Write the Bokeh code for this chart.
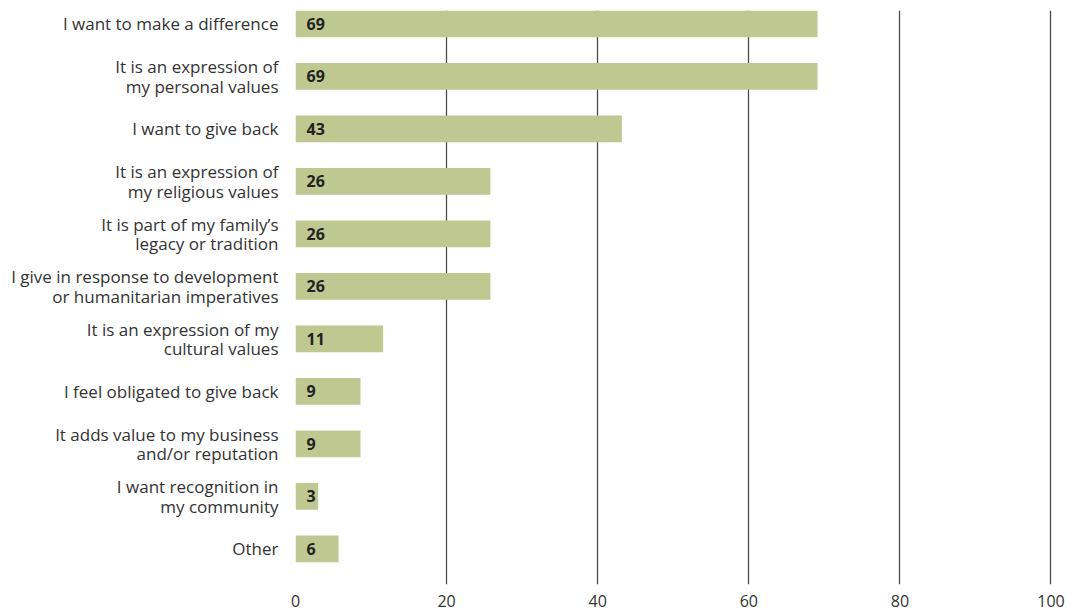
from bokeh.plotting import figure
from bokeh.models import Range1d, FixedTicker, ColumnDataSource
from bokeh.core.properties import value
from bokeh.embed import file_html
from bokeh.resources import INLINE

categories = [
    "I want to make a difference",
    "It is an expression of\nmy personal values",
    "I want to give back",
    "It is an expression of\nmy religious values",
    "It is part of my family\u2019s\nlegacy or tradition",
    "I give in response to development\nor humanitarian imperatives",
    "It is an expression of my\ncultural values",
    "I feel obligated to give back",
    "It adds value to my business\nand/or reputation",
    "I want recognition in\nmy community",
    "Other",
]
shares = [69.1, 69.1, 43.2, 25.8, 25.8, 25.8, 11.6, 8.6, 8.6, 3.0, 5.7]
share_labels = ["69", "69", "43", "26", "26", "26", "11", "9", "9", "3", "6"]
x_ticks = [0, 20, 40, 60, 80, 100]

FONT = "Open Sans"
ypos = list(range(len(categories)))
src = ColumnDataSource(dict(y=ypos, v=shares, lab=share_labels))

p = figure(width=1072, height=611, output_backend="svg", toolbar_location=None,
           x_range=Range1d(0, 100.2), y_range=Range1d(10.68, -0.253),
           min_border_left=295, min_border_right=20, min_border_top=10,
           min_border_bottom=27)
p.outline_line_color = None
p.background_fill_color = "white"
p.border_fill_color = "white"

p.hbar(y="y", left=0, right="v", height=0.51, source=src,
       fill_color="#bfc891", line_color=None)
p.text(x=0, y="y", text="lab", source=src, x_offset=11,
       text_align="left", text_baseline="middle",
       text_font=value(FONT), text_font_style="bold",
       text_font_size="16px", text_color="#222222")

p.xaxis.ticker = FixedTicker(ticks=x_ticks)
p.xaxis.axis_line_color = None
p.xaxis.major_tick_line_color = None
p.xaxis.major_tick_out = 0
p.xaxis.major_tick_in = 0
p.xaxis.minor_tick_line_color = None
p.xaxis.major_label_text_font = FONT
p.xaxis.major_label_text_font_size = "16px"
p.xaxis.major_label_text_color = "#333333"
p.xaxis.major_label_standoff = 10

p.yaxis.ticker = FixedTicker(ticks=ypos)
p.yaxis.major_label_overrides = {i: c for i, c in zip(ypos, categories)}
p.yaxis.axis_line_color = None
p.yaxis.major_tick_line_color = None
p.yaxis.major_tick_out = 0
p.yaxis.major_tick_in = 0
p.yaxis.minor_tick_line_color = None
p.yaxis.major_label_text_font = FONT
p.yaxis.major_label_text_font_size = "17px"
p.yaxis.major_label_text_color = "#333333"
p.yaxis.major_label_text_line_height = 0.85
p.yaxis.major_label_standoff = 17

p.xgrid.ticker = FixedTicker(ticks=x_ticks)
p.xgrid.grid_line_color = "#4a4a4a"
p.xgrid.grid_line_width = 1.3
p.ygrid.grid_line_color = None
p.xgrid.level = "underlay"

open("out.html", "w").write(file_html(p, INLINE))
